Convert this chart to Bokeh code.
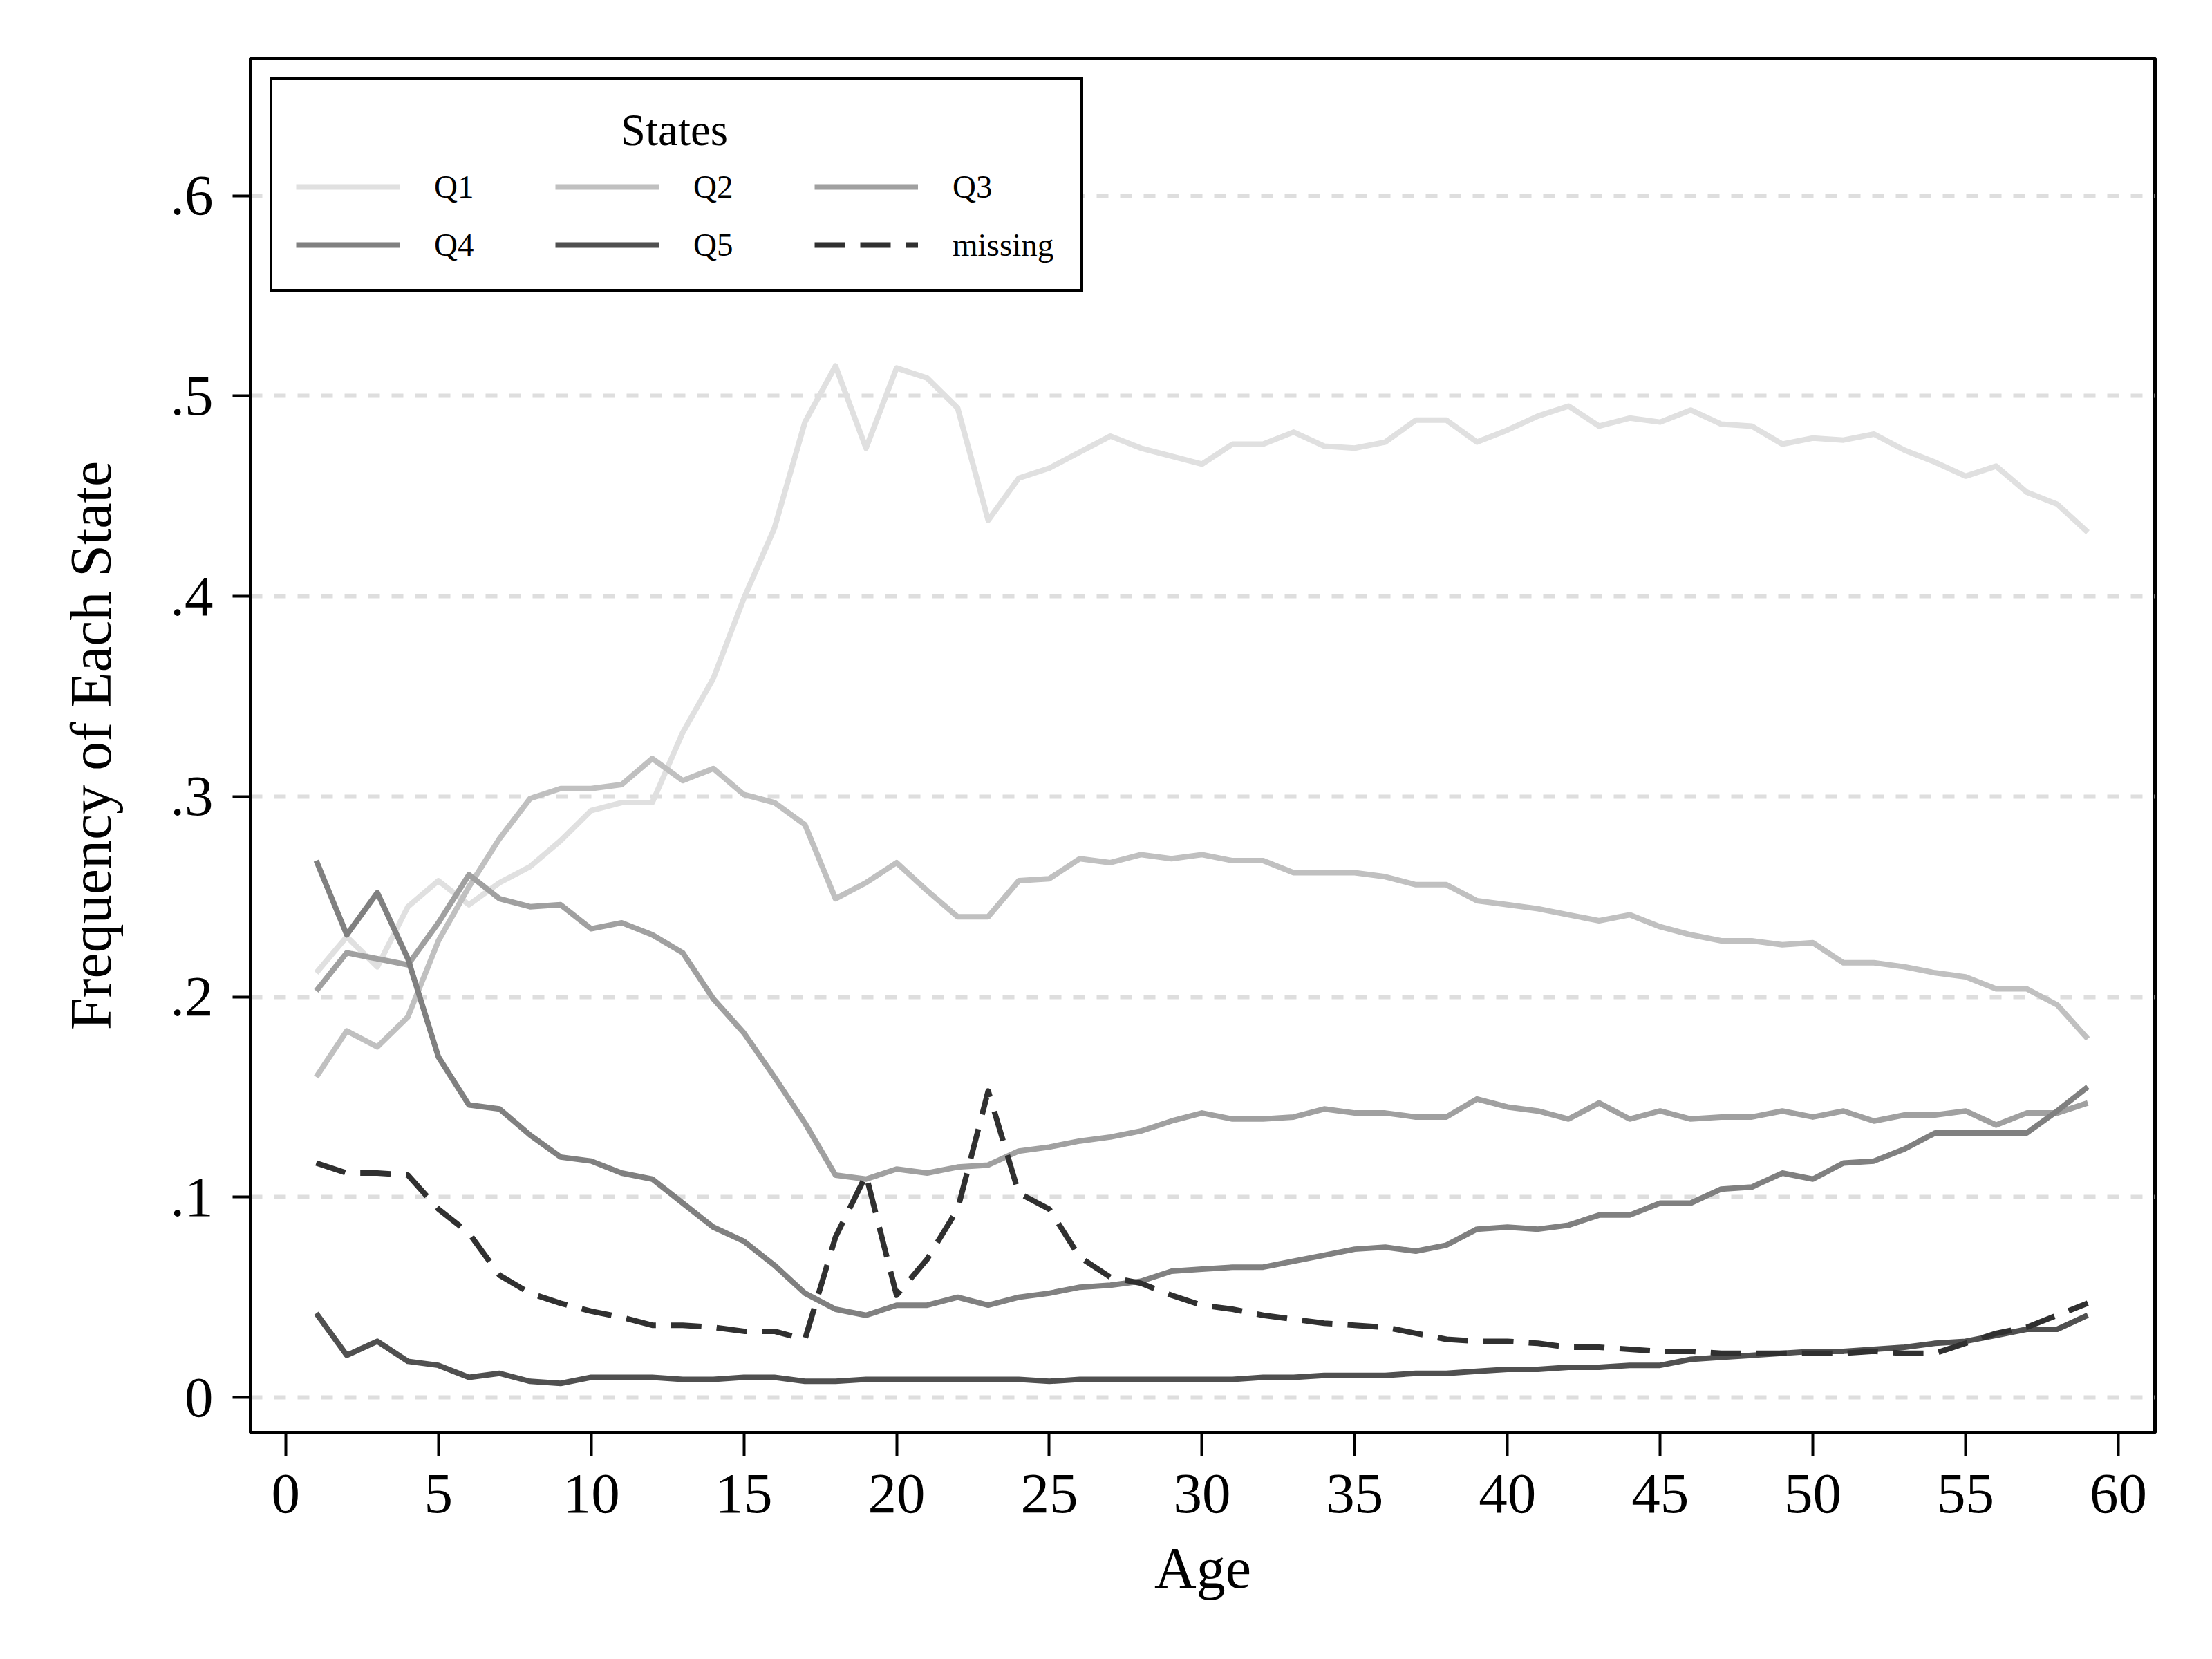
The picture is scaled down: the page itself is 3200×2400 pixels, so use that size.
from bokeh.plotting import figure
from bokeh.models import Range1d, FixedTicker, Legend, LegendItem, Label, BoxAnnotation
from bokeh.embed import file_html
from bokeh.resources import INLINE

ages = list(range(1, 60))

q1 = [0.212, 0.230, 0.215, 0.245, 0.258, 0.246, 0.257, 0.265, 0.278, 0.293, 0.297, 0.297, 0.332, 0.359, 0.399,
      0.434, 0.487, 0.515, 0.474, 0.514, 0.509, 0.494, 0.438, 0.459, 0.464, 0.472, 0.480, 0.474, 0.470, 0.466,
      0.476, 0.476, 0.482, 0.475, 0.474, 0.477, 0.488, 0.488, 0.477, 0.483, 0.490, 0.495, 0.485, 0.489, 0.487,
      0.493, 0.486, 0.485, 0.476, 0.479, 0.478, 0.481, 0.473, 0.467, 0.460, 0.465, 0.452, 0.446, 0.432]
q2 = [0.160, 0.183, 0.175, 0.190, 0.228, 0.255, 0.279, 0.299, 0.304, 0.304, 0.306, 0.319, 0.308, 0.314, 0.301,
      0.297, 0.286, 0.249, 0.257, 0.267, 0.253, 0.240, 0.240, 0.258, 0.259, 0.269, 0.267, 0.271, 0.269, 0.271,
      0.268, 0.268, 0.262, 0.262, 0.262, 0.260, 0.256, 0.256, 0.248, 0.246, 0.244, 0.241, 0.238, 0.241, 0.235,
      0.231, 0.228, 0.228, 0.226, 0.227, 0.217, 0.217, 0.215, 0.212, 0.210, 0.204, 0.204, 0.196, 0.179]
q3 = [0.203, 0.222, 0.219, 0.216, 0.237, 0.261, 0.249, 0.245, 0.246, 0.234, 0.237, 0.231, 0.222, 0.199, 0.182,
      0.160, 0.137, 0.111, 0.109, 0.114, 0.112, 0.115, 0.116, 0.123, 0.125, 0.128, 0.130, 0.133, 0.138, 0.142,
      0.139, 0.139, 0.140, 0.144, 0.142, 0.142, 0.140, 0.140, 0.149, 0.145, 0.143, 0.139, 0.147, 0.139, 0.143,
      0.139, 0.140, 0.140, 0.143, 0.140, 0.143, 0.138, 0.141, 0.141, 0.143, 0.136, 0.142, 0.142, 0.147]
q4 = [0.268, 0.231, 0.252, 0.219, 0.170, 0.146, 0.144, 0.131, 0.120, 0.118, 0.112, 0.109, 0.097, 0.085, 0.078,
      0.066, 0.052, 0.044, 0.041, 0.046, 0.046, 0.050, 0.046, 0.050, 0.052, 0.055, 0.056, 0.058, 0.063, 0.064,
      0.065, 0.065, 0.068, 0.071, 0.074, 0.075, 0.073, 0.076, 0.084, 0.085, 0.084, 0.086, 0.091, 0.091, 0.097,
      0.097, 0.104, 0.105, 0.112, 0.109, 0.117, 0.118, 0.124, 0.132, 0.132, 0.132, 0.132, 0.143, 0.155]
q5 = [0.042, 0.021, 0.028, 0.018, 0.016, 0.010, 0.012, 0.008, 0.007, 0.010, 0.010, 0.010, 0.009, 0.009, 0.010,
      0.010, 0.008, 0.008, 0.009, 0.009, 0.009, 0.009, 0.009, 0.009, 0.008, 0.009, 0.009, 0.009, 0.009, 0.009,
      0.009, 0.010, 0.010, 0.011, 0.011, 0.011, 0.012, 0.012, 0.013, 0.014, 0.014, 0.015, 0.015, 0.016, 0.016,
      0.019, 0.020, 0.021, 0.022, 0.023, 0.023, 0.024, 0.025, 0.027, 0.028, 0.031, 0.034, 0.034, 0.041]
missing = [0.117, 0.112, 0.112, 0.111, 0.094, 0.082, 0.061, 0.052, 0.047, 0.043, 0.040, 0.036, 0.036, 0.035, 0.033,
           0.033, 0.029, 0.080, 0.111, 0.051, 0.069, 0.094, 0.153, 0.102, 0.094, 0.070, 0.060, 0.057, 0.051, 0.046,
           0.044, 0.041, 0.039, 0.037, 0.036, 0.035, 0.032, 0.029, 0.028, 0.028, 0.027, 0.025, 0.025, 0.024, 0.023,
           0.023, 0.022, 0.022, 0.022, 0.022, 0.022, 0.023, 0.022, 0.022, 0.027, 0.032, 0.035, 0.041, 0.047]

series_names = ["Q1", "Q2", "Q3", "Q4", "Q5", "missing"]
series_values = [q1, q2, q3, q4, q5, missing]
series_colors = ["#e0e0e0", "#c0c0c0", "#a0a0a0", "#808080", "#505050", "#303030"]
series_dash = ["solid", "solid", "solid", "solid", "solid", "44 22"]

x_ticks = list(range(0, 61, 5))
y_ticks = [0.0, 0.1, 0.2, 0.3, 0.4, 0.5, 0.6]
y_tick_labels = ["0", ".1", ".2", ".3", ".4", ".5", ".6"]

FONT = "Liberation Serif"

p = figure(width=3184, height=2384, output_backend="svg", toolbar_location=None,
           x_range=Range1d(-1.15, 61.2), y_range=Range1d(-0.0176, 0.6686),
           min_border_left=362, min_border_right=67, min_border_top=84, min_border_bottom=312)
p.background_fill_color = "white"
p.border_fill_color = "white"
p.outline_line_color = "black"
p.outline_line_width = 5

p.xgrid.visible = False
p.ygrid.grid_line_color = "#dedede"
p.ygrid.grid_line_width = 6
p.ygrid.grid_line_dash = "17 17"

p.xaxis.ticker = FixedTicker(ticks=x_ticks)
p.yaxis.ticker = FixedTicker(ticks=y_ticks)
p.yaxis.major_label_overrides = {t: l for t, l in zip(y_ticks, y_tick_labels)}
p.xaxis.axis_label = "Age"
p.yaxis.axis_label = "Frequency of Each State"

for ax in (p.xaxis, p.yaxis):
    ax.axis_line_color = "black"
    ax.axis_line_width = 5
    ax.major_tick_line_color = "black"
    ax.major_tick_line_width = 4
    ax.major_tick_in = 0
    ax.minor_tick_line_color = None
    ax.major_label_text_font = FONT
    ax.major_label_text_font_size = "83px"
    ax.major_label_text_color = "black"
    ax.axis_label_text_font = FONT
    ax.axis_label_text_font_size = "84px"
    ax.axis_label_text_font_style = "normal"
    ax.axis_label_text_color = "black"
p.xaxis.major_tick_out = 34
p.yaxis.major_tick_out = 26
p.xaxis.major_label_standoff = 27
p.yaxis.major_label_standoff = 28
p.xaxis.axis_label_standoff = 31
p.yaxis.axis_label_standoff = 65
p.yaxis.major_label_orientation = "horizontal"

# white panel behind the (transparent) legend, hiding the grid line there
legend_panel = BoxAnnotation(left=32, right=1203, top=1953, bottom=1663,
                             left_units="screen", right_units="screen",
                             top_units="screen", bottom_units="screen",
                             fill_color="white", fill_alpha=1.0, line_color=None)
p.add_layout(legend_panel)

renderers = {}
for name, vals, col, dash in zip(series_names, series_values, series_colors, series_dash):
    renderers[name] = p.line(ages, vals, line_color=col, line_width=8, line_dash=dash, line_join="round")

# legend fills column by column: order so that rows read Q1 Q2 Q3 / Q4 Q5 missing
legend_order = ["Q1", "Q4", "Q2", "Q5", "Q3", "missing"]
items = [LegendItem(label=n, renderers=[renderers[n]]) for n in legend_order]

legend = Legend(items=items, ncols=3, location="top_left", margin=28,
                title="States", title_text_font=FONT, title_text_font_size="65px",
                title_text_font_style="normal", title_text_color="white", title_standoff=15,
                label_text_font=FONT, label_text_font_size="47px", label_text_color="black",
                glyph_width=150, glyph_height=60, label_height=60, label_width=151,
                label_standoff=50, spacing=24, padding=34,
                border_line_color="black", border_line_width=4, border_line_alpha=1.0,
                background_fill_alpha=0.0)
p.add_layout(legend)

title_label = Label(x=613, y=1885, x_units="screen", y_units="screen", text="States",
                    text_font=FONT, text_font_size="65px", text_color="black",
                    text_align="center", text_baseline="middle", level="overlay")
p.add_layout(title_label)

open("out.html", "w").write(file_html(p, INLINE))
